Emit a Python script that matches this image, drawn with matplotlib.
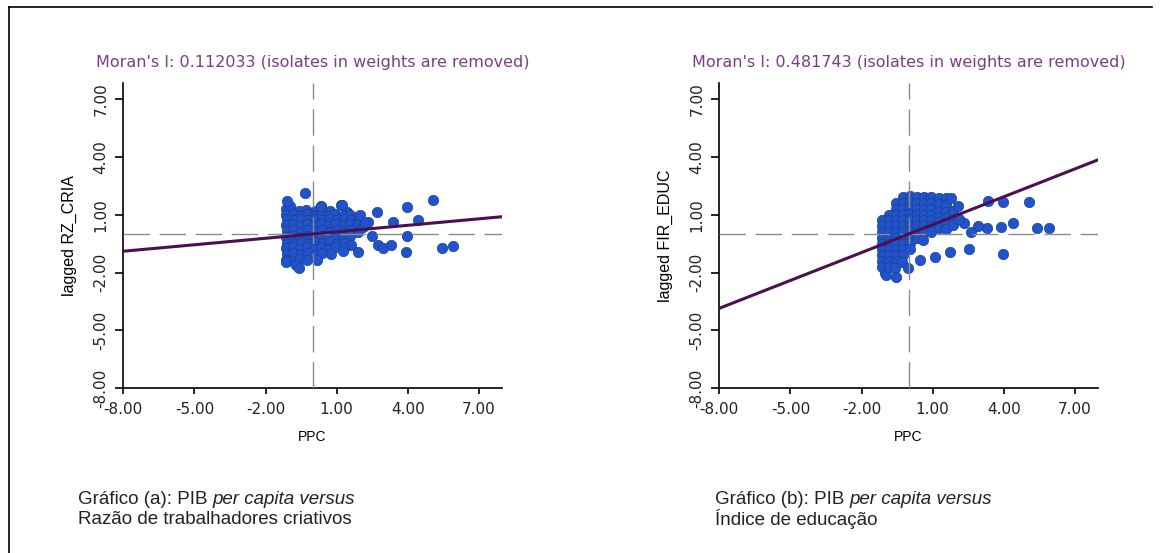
import matplotlib
matplotlib.use("Agg")
import matplotlib.pyplot as plt
from matplotlib.lines import Line2D

plt.rcParams["font.family"] = ["Liberation Sans", "DejaVu Sans"]
wide = ["DejaVu Sans"]

# DATA
ticks = [-8, -5, -2, 1, 4, 7]
moran = [0.112033, 0.481743]
ylabels = ["lagged RZ_CRIA", "lagged FIR_EDUC"]
xlabel = "PPC"

ppc_a = [-1.15, -0.95, -0.6, -0.3, 0.1, 0.35, 0.7, 1.2, 1.45, -1.1, -0.33,
         -1.15, -0.85, -0.55, -0.25, 0.05, 0.35, 0.65, 0.95, 1.25, 1.55, 1.85,
         -1.1, -0.8, -0.5, -0.2, 0.1, 0.4, 0.7, 1.0, 1.3, 1.6, 1.95, 2.34,
         -1.15, -0.85, -0.55, -0.25, 0.05, 0.35, 0.65, 0.95, 1.25, 1.55, 1.85, 2.1,
         -1.1, -0.8, -0.5, -0.2, 0.1, 0.4, 0.7, 1.0, 1.3, 1.6, 1.9,
         -1.15, -0.85, -0.55, -0.25, 0.05, 0.35, 0.65, 0.95, 1.25, 1.55, 2.48,
         -1.1, -0.8, -0.5, -0.2, 0.1, 0.4, 0.7, 1.0, 1.3, 1.6,
         -1.15, -0.85, -0.55, -0.25, 0.05, 0.35, 0.65, 0.95, 1.3,
         -1.1, -0.8, -0.5, -0.2, 0.1, 0.4, 0.75, 1.26, 1.91,
         -1.15, -0.85, -0.55, -0.25, 0.17,
         -1.15, -0.7, -0.57,
         2.72, 3.98, 5.08, 3.36, 4.45, 3.98, 2.76, 2.94, 3.28, 3.93, 5.43, 5.92,
         1.21, 0.33, 1.98, 2.2]
lag_a = [1.3, 1.45, 1.2, 1.25, 1.2, 1.45, 1.2, 1.5, 1.15, 1.7, 2.1,
         1.0, 1.05, 0.95, 1.05, 0.95, 1.05, 0.95, 1.05, 0.95, 1.0, 0.9,
         0.75, 0.7, 0.8, 0.7, 0.8, 0.7, 0.8, 0.7, 0.8, 0.7, 0.75, 0.64,
         0.45, 0.5, 0.4, 0.5, 0.4, 0.5, 0.4, 0.5, 0.4, 0.5, 0.45, 0.35,
         0.15, 0.2, 0.1, 0.2, 0.1, 0.2, 0.1, 0.2, 0.1, 0.2, 0.1,
         -0.15, -0.1, -0.2, -0.1, -0.2, -0.1, -0.2, -0.1, -0.2, -0.1, -0.13,
         -0.45, -0.5, -0.4, -0.5, -0.4, -0.5, -0.4, -0.5, -0.45, -0.55,
         -0.75, -0.7, -0.8, -0.7, -0.8, -0.7, -0.8, -0.7, -0.75,
         -1.05, -1.0, -1.1, -1.0, -1.1, -1.0, -1.05, -0.86, -0.94,
         -1.35, -1.4, -1.3, -1.35, -1.34,
         -1.45, -1.6, -1.77,
         1.13, 1.42, 1.77, 0.61, 0.73, -0.08, -0.56, -0.74, -0.56, -0.91, -0.74, -0.65,
         1.5, 1.42, 0.99, 0.55]

ppc_b = [-1.15, -1.15, -1.15, -1.15, -1.15, -1.15, -1.15, -1.15, -1.15, -1.0, -0.97,
         -0.85, -0.85, -0.85, -0.85, -0.85, -0.85, -0.85, -0.85, -0.85, -0.85,
         -0.55, -0.55, -0.55, -0.55, -0.55, -0.55, -0.55, -0.55, -0.55, -0.55, -0.55, -0.6, -0.54,
         -0.25, -0.25, -0.25, -0.25, -0.25, -0.25, -0.25, -0.25, -0.25, -0.25, -0.25, -0.3,
         0.05, 0.05, 0.05, 0.05, 0.05, 0.05, 0.05, 0.05, 0.05, 0.05, -0.05,
         0.35, 0.35, 0.35, 0.35, 0.35, 0.35, 0.35, 0.35, 0.46,
         0.65, 0.65, 0.65, 0.65, 0.65, 0.65, 0.65, 0.6,
         0.95, 0.95, 0.95, 0.95, 0.95, 0.95, 0.95,
         1.25, 1.25, 1.25, 1.25, 1.25, 1.25, 1.1,
         1.55, 1.55, 1.55, 1.55, 1.55, 1.55,
         1.78, 1.85, 1.85, 1.85, 2.06, 2.32, 2.1,
         3.32, 3.96, 5.08, 4.39, 3.9, 3.29, 2.9, 2.63, 5.41, 5.92, 3.96, 2.52, 1.74]
lag_b = [0.7, 0.4, 0.1, -0.2, -0.5, -0.8, -1.1, -1.4, -1.7, -2.0, -2.12,
         1.0, 0.7, 0.4, 0.1, -0.2, -0.5, -0.8, -1.1, -1.4, -1.7,
         1.6, 1.3, 1.0, 0.7, 0.4, 0.1, -0.2, -0.5, -0.8, -1.1, -1.4, -1.75, -2.21,
         1.9, 1.6, 1.3, 1.0, 0.7, 0.4, 0.1, -0.2, -0.5, -0.8, -1.1, -1.45,
         1.95, 1.65, 1.35, 1.05, 0.75, 0.45, 0.15, -0.15, -0.45, -0.8, -1.78,
         1.9, 1.6, 1.3, 1.0, 0.7, 0.4, 0.1, -0.2, -1.35,
         1.9, 1.6, 1.3, 1.0, 0.7, 0.4, 0.1, -0.3,
         1.9, 1.6, 1.3, 1.0, 0.7, 0.4, 0.1,
         1.85, 1.55, 1.2, 0.9, 0.6, 0.3, -1.2,
         1.85, 1.5, 1.15, 0.85, 0.55, 0.25,
         1.88, 1.2, 0.8, 0.45, 1.45, 0.59, 0.8,
         1.71, 1.64, 1.64, 0.56, 0.38, 0.3, 0.42, 0.12, 0.3, 0.3, -1.05, -0.78, -0.92]

captions = [("Gráfico (a): PIB ", "per capita versus", "Razão de trabalhadores criativos"),
            ("Gráfico (b): PIB ", "per capita versus", "Índice de educação")]

# PLOT
W, H = 1160, 553
fig = plt.figure(figsize=(W / 100, H / 100), dpi=100)

def fx(px):
    return px / W

def fy(py):
    return 1 - py / H

ax_left = [123.3, 719.3]
ax_w, ax_top, ax_bot = 378.4, 82.7, 388.3
panels = [(ppc_a, lag_a), (ppc_b, lag_b)]

for i, (xs, ys) in enumerate(panels):
    ax = fig.add_axes([fx(ax_left[i]), fy(ax_bot), fx(ax_w), (ax_bot - ax_top) / H])
    ax.set_xlim(-8, 7.96)
    ax.set_ylim(-8, 7.84)
    ax.scatter(xs, ys, s=56, c="#2153cc", edgecolors="#1d3f8e", linewidths=0.5, zorder=2)
    ax.axhline(0, color="#8c8c8c", lw=1, dashes=(19, 7), zorder=3)
    ax.axvline(0, color="#8c8c8c", lw=1, dashes=(19, 7), zorder=3)
    ax.plot([-8, 7.96], [-8 * moran[i], 7.96 * moran[i]], color="#4a1050", lw=2.2, zorder=4)
    for s in ["top", "right"]:
        ax.spines[s].set_visible(False)
    for s in ["left", "bottom"]:
        ax.spines[s].set_linewidth(1.2)
    ax.set_xticks(ticks)
    ax.set_yticks(ticks)
    ax.set_xticklabels([f"{t:.2f}" for t in ticks], fontsize=11, color="#222222",
                       family=wide)
    ax.set_yticklabels([f"{t:.2f}" for t in ticks], fontsize=11, color="#222222",
                       family=wide, rotation=90, va="center")
    ax.tick_params(axis="x", length=4, width=1.2, pad=6)
    ax.tick_params(axis="y", length=5.5, width=1.2, pad=5)
    ax.set_title(f"Moran's I: {moran[i]:.6f} (isolates in weights are removed)",
                 color="#7d3c85", fontsize=11.5, family=wide, pad=11)
    ax.set_ylabel(ylabels[i], fontsize=11.5, labelpad=12)
    ax.set_xlabel(xlabel, fontsize=10, labelpad=9)

# captions with italic part
renderer = fig.canvas.get_renderer()
cap_x = [78, 715]
for i, (a, b, c) in enumerate(captions):
    t = fig.text(fx(cap_x[i]), fy(499), a, fontsize=13.5, va="center", color="#222222")
    w = t.get_window_extent(renderer).width
    fig.text(fx(cap_x[i] + w), fy(499), b, fontsize=13.5, va="center", style="italic",
             color="#222222")
    fig.text(fx(cap_x[i]), fy(519), c, fontsize=13.5, va="center", color="#222222")

# outer frame
fig.add_artist(Line2D([fx(9), fx(1152)], [fy(7), fy(7)], color="black", lw=1.2))
fig.add_artist(Line2D([fx(9), fx(9)], [fy(7), fy(553)], color="black", lw=1.2))

fig.savefig("out.png", dpi=100)
